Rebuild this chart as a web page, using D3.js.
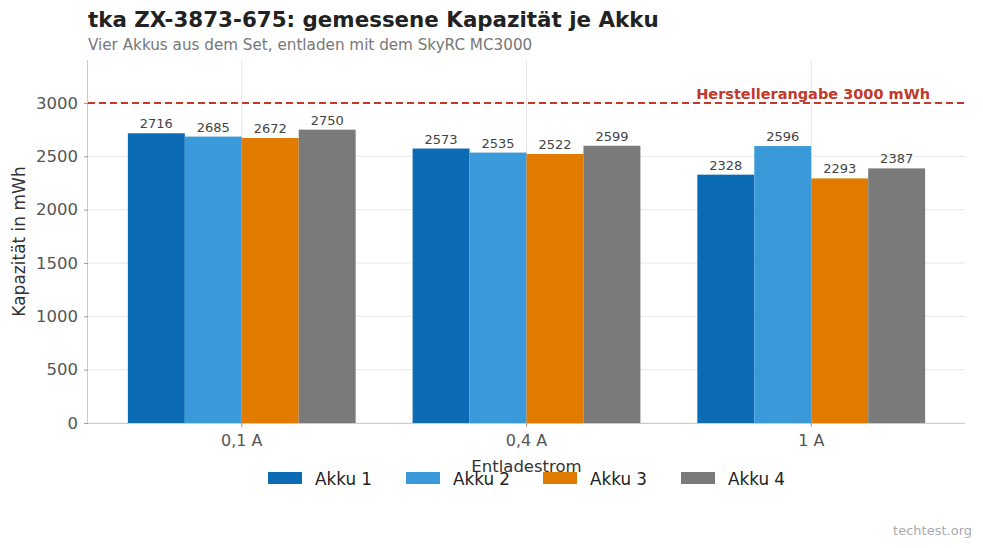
<!DOCTYPE html>
<html><head><meta charset="utf-8">
<script src="https://cdn.jsdelivr.net/npm/d3@7"></script>
<style>body{margin:0;background:#fff;font-family:"DejaVu Sans",sans-serif}</style>
</head><body>
<svg id="c" width="983" height="548"></svg>
<script>
const categories = ["0,1 A", "0,4 A", "1 A"];
const seriesNames = ["Akku 1", "Akku 2", "Akku 3", "Akku 4"];
const akku1 = [2716, 2573, 2328];
const akku2 = [2685, 2535, 2596];
const akku3 = [2672, 2522, 2293];
const akku4 = [2750, 2599, 2387];
const yTicks = [0, 500, 1000, 1500, 2000, 2500, 3000];
const refValue = 3000;
const colors = ["#0b6bb5", "#3a9ad9", "#e07b00", "#7a7a7a"];
const series = [akku1, akku2, akku3, akku4];

const svg = d3.select("#c");
const m = {l: 88, r: 965, t: 60, b: 423};
const x = d3.scaleBand().domain(categories).range([m.l, m.r]).paddingInner(0.2).paddingOuter(0.14);
const xs = d3.scaleBand().domain(seriesNames).range([0, x.bandwidth()]);
const y = d3.scaleLinear().domain([0, 3403]).range([m.b, m.t]);

// gridlines
svg.append("g").selectAll("line").data(yTicks).join("line")
  .attr("x1", m.l).attr("x2", m.r).attr("y1", d => y(d)).attr("y2", d => y(d))
  .attr("stroke", "#e6e6e6").attr("stroke-width", 1);
svg.append("g").selectAll("line").data(categories).join("line")
  .attr("x1", d => x(d) + x.bandwidth()/2).attr("x2", d => x(d) + x.bandwidth()/2)
  .attr("y1", m.t).attr("y2", m.b)
  .attr("stroke", "#e6e6e6").attr("stroke-width", 1);

// bars
series.forEach((vals, si) => {
  const g = svg.append("g");
  g.selectAll("rect").data(vals).join("rect")
    .attr("x", (d, i) => x(categories[i]) + xs(seriesNames[si]))
    .attr("y", d => y(d)).attr("width", xs.bandwidth()).attr("height", d => y(0) - y(d))
    .attr("fill", colors[si]);
  g.selectAll("text").data(vals).join("text")
    .attr("x", (d, i) => x(categories[i]) + xs(seriesNames[si]) + xs.bandwidth()/2)
    .attr("y", d => y(d) - 5).attr("text-anchor", "middle")
    .attr("font-size", 13).attr("fill", "#444").text(d => d);
});

// y axis
const ya = svg.append("g").attr("transform", `translate(${m.l},0)`)
  .call(d3.axisLeft(y).tickValues(yTicks).tickFormat(d3.format("d")).tickSize(4).tickPadding(6));
ya.select(".domain").attr("stroke", "#ccc").attr("d", `M-0.5,${m.t}V${m.b}`);
ya.selectAll(".tick line").attr("stroke", "#999");
ya.selectAll(".tick text").attr("font-size", 16.5).attr("fill", "#555").attr("font-family", "DejaVu Sans");

// x axis
const xa = svg.append("g").attr("transform", `translate(0,${m.b})`)
  .call(d3.axisBottom(x).tickSize(4).tickPadding(8));
xa.select(".domain").attr("stroke", "#ccc").attr("d", `M${m.l},0.5H${m.r}`);
xa.selectAll(".tick line").attr("stroke", "#999");
xa.selectAll(".tick text").attr("font-size", 16).attr("fill", "#555").attr("font-family", "DejaVu Sans");

// reference line
svg.append("line").attr("x1", m.l).attr("x2", m.r).attr("y1", y(refValue)).attr("y2", y(refValue))
  .attr("stroke", "#c0392b").attr("stroke-width", 2).attr("stroke-dasharray", "7,4");
svg.append("text").attr("x", 930).attr("y", y(refValue) - 4).attr("text-anchor", "end")
  .attr("font-size", 14.5).attr("font-weight", "bold").attr("fill", "#c0392b")
  .text("Herstellerangabe 3000 mWh");

// titles
svg.append("text").attr("x", 88).attr("y", 27).attr("font-size", 21.4).attr("font-weight", "bold")
  .attr("fill", "#222").text("tka ZX-3873-675: gemessene Kapazität je Akku");
svg.append("text").attr("x", 88).attr("y", 50).attr("font-size", 15.2).attr("fill", "#777")
  .text("Vier Akkus aus dem Set, entladen mit dem SkyRC MC3000");

// axis labels
svg.append("text").attr("transform", `translate(25,${(m.t + m.b)/2}) rotate(-90)`)
  .attr("text-anchor", "middle").attr("font-size", 17).attr("fill", "#333").text("Kapazität in mWh");
svg.append("text").attr("x", (m.l + m.r)/2).attr("y", 472).attr("text-anchor", "middle")
  .attr("font-size", 16.5).attr("fill", "#333").text("Entladestrom");

// legend
const lx = [268, 406, 543, 681];
const lg = svg.append("g");
seriesNames.forEach((n, i) => {
  lg.append("rect").attr("x", lx[i]).attr("y", 472).attr("width", 34).attr("height", 12).attr("fill", colors[i]);
  lg.append("text").attr("x", lx[i] + 47).attr("y", 484.5).attr("font-size", 16.8).attr("fill", "#222").text(n);
});

svg.append("text").attr("x", 972).attr("y", 535).attr("text-anchor", "end")
  .attr("font-size", 13).attr("fill", "#aaa").text("techtest.org");
</script>
</body></html>
